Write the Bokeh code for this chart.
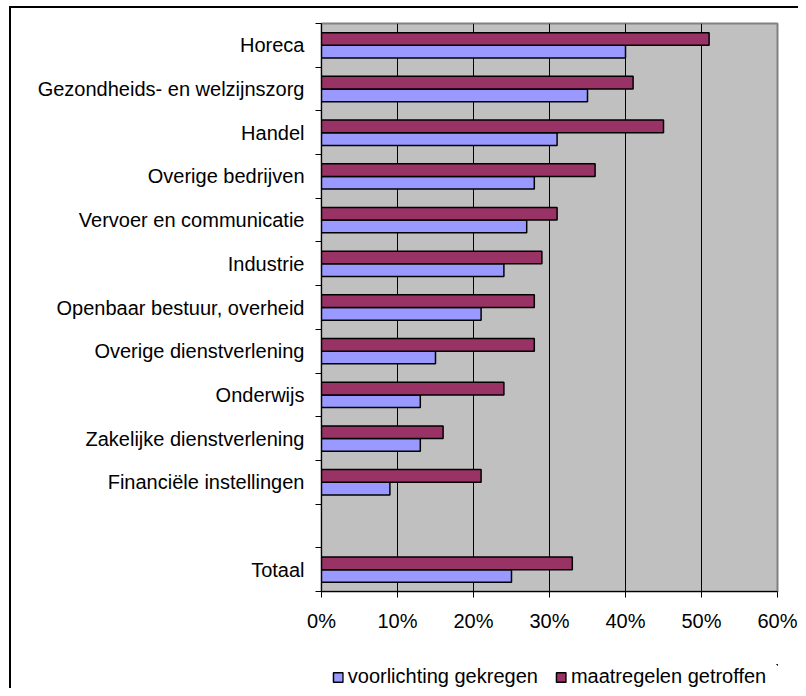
from bokeh.plotting import figure
from bokeh.layouts import column
from bokeh.models import (Range1d, FixedTicker, PrintfTickFormatter, Legend, LegendItem,
                          ColumnDataSource, BoxAnnotation)
from bokeh.embed import file_html
from bokeh.resources import INLINE

categories = ["Horeca", "Gezondheids- en welzijnszorg", "Handel", "Overige bedrijven",
              "Vervoer en communicatie", "Industrie", "Openbaar bestuur, overheid",
              "Overige dienstverlening", "Onderwijs", "Zakelijke dienstverlening",
              "Financiële instellingen", "Totaal"]
voorlichting = [40, 35, 31, 28, 27, 24, 21, 15, 13, 13, 9, 25]
maatregelen = [51, 41, 45, 36, 31, 29, 28, 28, 24, 16, 21, 33]
x_ticks = [0, 10, 20, 30, 40, 50, 60]
series_labels = ["voorlichting gekregen", "maatregelen getroffen"]

# slot positions (one empty slot before "Totaal")
slots = [i if i < len(categories) - 1 else i + 1 for i in range(len(categories))]
n_slots = slots[-1] + 1
centers = [s + 0.5 for s in slots]
bar_h = 0.29

FONT = "Liberation Sans"
C_VOOR = "#9999FF"
C_MAAT = "#993366"

W = 798
H_MAIN = 634
H_LEG = 54
BL, BR = 321, 21

p = figure(width=W, height=H_MAIN, output_backend="svg", toolbar_location=None,
           x_range=Range1d(0, 60), y_range=Range1d(n_slots, 0),
           min_border_left=BL, min_border_right=BR, min_border_top=23,
           min_border_bottom=H_MAIN - 593)
p.styles = {"background": "linear-gradient(black, black) 9px 6px / 2px 100% no-repeat, "
                          "linear-gradient(black, black) 9px 6px / 100% 2px no-repeat, white"}
p.border_fill_color = None
p.background_fill_color = "#C0C0C0"
p.outline_line_color = "#808080"
p.outline_line_width = 2

src = ColumnDataSource(dict(
    cat=categories,
    voor=voorlichting,
    maat=maatregelen,
    y_maat=[c - bar_h / 2 for c in centers],
    y_voor=[c + bar_h / 2 for c in centers],
))

p.hbar(y="y_voor", right="voor", left=0, height=bar_h, source=src,
       fill_color=C_VOOR, line_color="black", line_width=1.5)
p.hbar(y="y_maat", right="maat", left=0, height=bar_h, source=src,
       fill_color=C_MAAT, line_color="black", line_width=1.5)

# x axis
p.xaxis.ticker = FixedTicker(ticks=x_ticks)
p.xaxis.formatter = PrintfTickFormatter(format="%d%%")
p.xaxis.major_label_text_font = FONT
p.xaxis.major_label_text_font_size = "20px"
p.xaxis.major_label_text_color = "black"
p.xaxis.major_label_standoff = 12
p.xaxis.major_tick_out = 6
p.xaxis.major_tick_in = 0
p.xaxis.minor_tick_out = 0
p.xaxis.minor_tick_in = 0
p.xaxis.axis_line_color = "black"
p.xaxis.major_tick_line_color = "black"

# y axis
p.yaxis.ticker = FixedTicker(ticks=centers, minor_ticks=list(range(n_slots + 1)))
p.yaxis.major_label_overrides = {c: name for c, name in zip(centers, categories)}
p.yaxis.major_label_text_font = FONT
p.yaxis.major_label_text_font_size = "20px"
p.yaxis.major_label_text_color = "black"
p.yaxis.major_label_standoff = 11
p.yaxis.major_tick_out = 0
p.yaxis.major_tick_in = 0
p.yaxis.minor_tick_out = 6
p.yaxis.minor_tick_in = 0
p.yaxis.minor_tick_line_color = "black"
p.yaxis.axis_line_color = "black"

p.xgrid.ticker = FixedTicker(ticks=x_ticks)
p.xgrid.grid_line_color = "black"
p.xgrid.grid_line_width = 1
p.ygrid.grid_line_color = None

# legend strip: same bar styles, ranges chosen so the bars stay outside the view,
# and a white cover (underlay) over anything that reaches the strip's frame
lg = figure(width=W, height=H_LEG, output_backend="svg", toolbar_location=None,
            x_range=Range1d(-100, -40), y_range=Range1d(-1001, -1000),
            x_axis_type=None, y_axis_type=None,
            min_border_left=BL, min_border_right=BR,
            min_border_top=30, min_border_bottom=0)
lg.styles = {"background": "linear-gradient(black, black) 9px 0px / 2px 100% no-repeat, white"}
lg.border_fill_color = None
lg.background_fill_color = None
lg.outline_line_color = None
lg.xgrid.grid_line_color = None
lg.ygrid.grid_line_color = None
r_voor = lg.hbar(y="y_voor", right="voor", left=0, height=bar_h, source=src, level="image",
                 fill_color=C_VOOR, line_color="black", line_width=1.5)
r_maat = lg.hbar(y="y_maat", right="maat", left=0, height=bar_h, source=src, level="image",
                 fill_color=C_MAAT, line_color="black", line_width=1.5)
lg.add_layout(BoxAnnotation(level="underlay", fill_color="white", fill_alpha=1.0,
                            line_color=None, propagate_hover=False))

legend = Legend(items=[LegendItem(label=series_labels[0], renderers=[r_voor]),
                       LegendItem(label=series_labels[1], renderers=[r_maat])],
                orientation="horizontal", location="bottom_center",
                glyph_width=12, glyph_height=12, label_standoff=4, spacing=17,
                padding=0, margin=0,
                label_text_font=FONT, label_text_font_size="20px",
                label_text_color="black",
                border_line_alpha=0, background_fill_alpha=0)
lg.add_layout(legend, "center")

layout = column(p, lg, spacing=0)
open("out.html", "w").write(file_html(layout, INLINE))
